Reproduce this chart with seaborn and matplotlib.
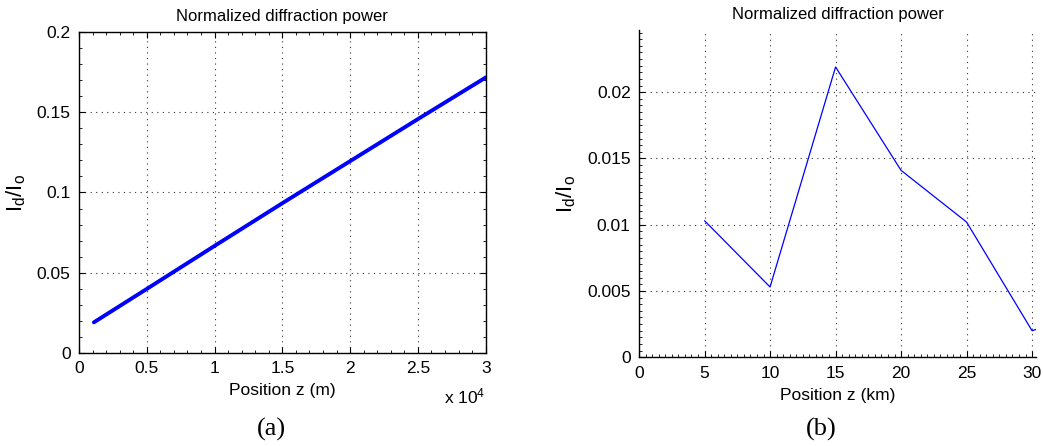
import matplotlib
matplotlib.use("Agg")
import matplotlib.pyplot as plt
import seaborn as sns
import pandas as pd
from matplotlib.ticker import AutoMinorLocator, FuncFormatter, MultipleLocator

# ---- data ----
pos_m = [1100, 5000, 10000, 15000, 20000, 25000, 30000]
power_a = [0.0191, 0.0399, 0.0667, 0.0933, 0.1195, 0.1457, 0.1716]

pos_km = [5, 10, 15, 20, 25, 30, 30.3]
power_b = [0.0103, 0.0053, 0.0219, 0.0141, 0.0102, 0.0020, 0.0021]

title_txt = "Normalized diffraction power"
ylab = r"$\mathregular{I_d/I_o}$"
xlab_a = "Position z (m)"
xlab_b = "Position z (km)"

sns.set_style("ticks")
plt.rcParams['font.family'] = ['Liberation Sans', 'DejaVu Sans']
plt.rcParams['mathtext.fontset'] = 'custom'
plt.rcParams['mathtext.rm'] = 'Liberation Sans'
plt.rcParams['mathtext.it'] = 'Liberation Sans'
for k in ['text.color', 'axes.labelcolor', 'xtick.color', 'ytick.color', 'axes.edgecolor']:
    plt.rcParams[k] = 'black'

fig = plt.figure(figsize=(10.43, 4.46), dpi=100)
ax1 = fig.add_axes([0.0757, 0.2085, 0.390, 0.720])
ax2 = fig.add_axes([0.6127, 0.199, 0.3806, 0.734])

df_a = pd.DataFrame({"z": pos_m, "p": power_a})
df_b = pd.DataFrame({"z": pos_km, "p": power_b})

sns.lineplot(data=df_a, x="z", y="p", ax=ax1, color="#0000ff", linewidth=2.8)
sns.lineplot(data=df_b, x="z", y="p", ax=ax2, color="#0000ff", linewidth=0.9)

tfs = 12.5
for ax in (ax1, ax2):
    ax.grid(True, linestyle=(0, (1, 4)), color="#333333", linewidth=0.8)
    ax.set_title(title_txt, fontsize=12, pad=8)
    ax.set_ylabel(ylab, fontsize=16)
    ax.tick_params(direction="in", labelsize=tfs, length=4, width=0.8, pad=6)
    ax.tick_params(which="minor", direction="in", length=2, width=0.6)
    for s in ax.spines.values():
        s.set_linewidth(1.0)

# left panel
ax1.set_xlim(0, 30000)
ax1.set_ylim(0, 0.2)
ax1.xaxis.set_major_locator(MultipleLocator(5000))
ax1.xaxis.set_major_formatter(FuncFormatter(lambda v, p: f"{v/1e4:g}"))
ax1.yaxis.set_major_locator(MultipleLocator(0.05))
ax1.yaxis.set_major_formatter(FuncFormatter(lambda v, p: f"{v:g}"))
ax1.xaxis.set_minor_locator(AutoMinorLocator(5))
ax1.yaxis.set_minor_locator(AutoMinorLocator(5))
ax1.tick_params(which="both", top=True, right=True)
ax1.set_xlabel(xlab_a, fontsize=12.5, labelpad=5)
ax1.yaxis.set_label_coords(-0.125, 0.5)
fig.text(0.465, 0.11, r"x 10$^{\mathregular{4}}$", fontsize=12.5, ha="right", va="center")

# right panel
ax2.set_xlim(0, 30.3)
ax2.set_ylim(0, 0.0247)
ax2.xaxis.set_major_locator(MultipleLocator(5))
ax2.yaxis.set_major_locator(MultipleLocator(0.005))
ax2.yaxis.set_major_formatter(FuncFormatter(lambda v, p: f"{v:g}"))
ax2.xaxis.set_minor_locator(AutoMinorLocator(10))
ax2.yaxis.set_minor_locator(AutoMinorLocator(10))
ax2.spines["top"].set_visible(False)
ax2.spines["right"].set_visible(False)
ax2.set_xlabel(xlab_b, fontsize=12.5, labelpad=5)
ax2.yaxis.set_label_coords(-0.154, 0.5)

# captions
fig.text(0.260, 0.036, "(a)", fontsize=19, family=["Liberation Serif", "DejaVu Serif"], ha="center", va="center")
fig.text(0.787, 0.036, "(b)", fontsize=19, family=["Liberation Serif", "DejaVu Serif"], ha="center", va="center")

fig.savefig("out.png", dpi=100)
